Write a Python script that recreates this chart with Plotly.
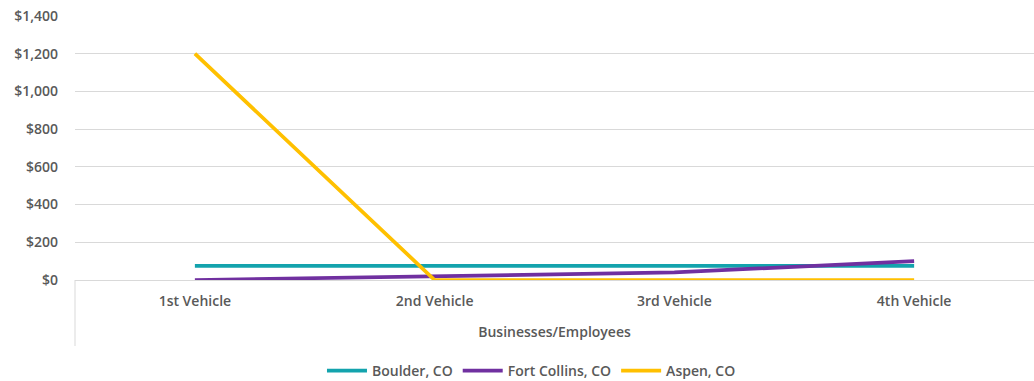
import plotly.graph_objects as go

# Cost per vehicle tier for each city
categories = ["1st Vehicle", "2nd Vehicle", "3rd Vehicle", "4th Vehicle"]
boulder = [75, 75, 75, 75]
fort_collins = [0, 20, 40, 100]
aspen = [1200, 0, 0, 0]
y_ticks = [0, 200, 400, 600, 800, 1000, 1200, 1400]
y_tick_labels = ["$0", "$200", "$400", "$600", "$800", "$1,000", "$1,200", "$1,400"]

series = [
    ("Boulder, CO", boulder, "#13A3AD"),
    ("Fort Collins, CO", fort_collins, "#7030A0"),
    ("Aspen, CO", aspen, "#FFC000"),
]

FONT = "Open Sans, Liberation Sans, Arial, sans-serif"
TEXT = "#595959"
WEIGHT = 600


def font(size=14):
    return dict(family=FONT, size=size, color=TEXT, weight=WEIGHT)


x_idx = list(range(len(categories)))

fig = go.Figure()
for name, vals, color in series:
    fig.add_trace(go.Scatter(
        x=x_idx, y=vals, name=name, mode="lines",
        line=dict(color=color, width=3.75),
    ))

fig.update_layout(
    width=1034, height=381,
    margin=dict(l=75, r=0, t=16, b=101),
    paper_bgcolor="white", plot_bgcolor="white",
    font=font(),
    showlegend=True,
    legend=dict(
        orientation="h", xref="paper", yref="container",
        x=0.476, xanchor="center", y=0.068, yanchor="top",
        font=font(),
        itemwidth=40, tracegroupgap=0,
    ),
    xaxis=dict(
        tickmode="array", tickvals=x_idx, ticktext=categories,
        range=[-0.5, len(categories) - 0.5],
        showgrid=False, zeroline=False, showline=False,
        ticks="", ticklabelstandoff=11, automargin=False,
        tickfont=font(),
        title=dict(text="Businesses/Employees", standoff=18, font=font()),
    ),
    yaxis=dict(
        range=[0, 1400], tickmode="array", tickvals=y_ticks, ticktext=y_tick_labels,
        showgrid=True, gridcolor="#D9D9D9", gridwidth=1,
        zeroline=True, zerolinecolor="#D9D9D9", zerolinewidth=1,
        showline=False, ticks="", ticklabelstandoff=16, automargin=False,
        tickfont=font(),
    ),
)

# Left separator line of the category axis, running below the baseline
fig.add_shape(type="line", xref="paper", yref="paper",
              x0=0, x1=0, y0=0, y1=-0.25,
              line=dict(color="#D9D9D9", width=1))

fig.write_html("out.html")
